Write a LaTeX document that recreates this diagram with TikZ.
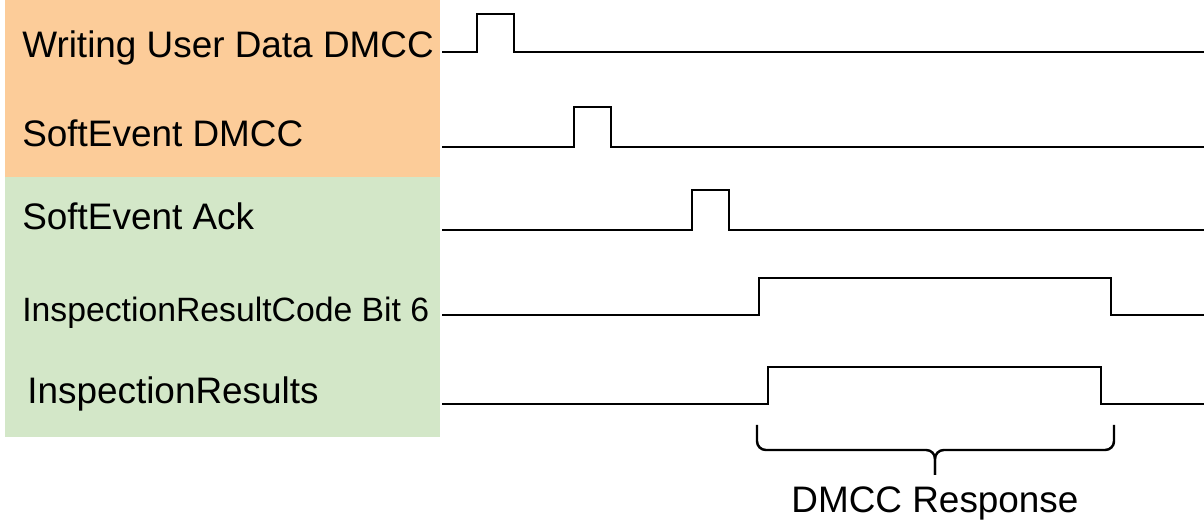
\documentclass[tikz,border=0pt]{standalone}
\usepackage{fontspec}
\setmainfont{Liberation Sans}
\usepackage{tikz}
\usetikzlibrary{positioning}
\definecolor{SigOrange}{RGB}{252,204,153}
\definecolor{SigGreen}{RGB}{211,231,200}
\tikzset{
  lbl/.style  = {anchor=base west, inner sep=0pt,
                 font=\fontsize{21}{25}\selectfont},
  slbl/.style = {lbl, font=\fontsize{19.2}{23}\selectfont},
  sig/.style  = {line width=1.4pt, line join=miter},
  brc/.style  = {line width=1.4pt, rounded corners=5pt}
}

\begin{document}
\begin{tikzpicture}[x=0.02cm, y=-0.02cm]
\useasboundingbox (0,0) rectangle (1204,523);
% label panels
\fill[SigOrange] (5,0) rectangle (440,177);
\fill[SigGreen] (5,177) rectangle (440,437);
\node[lbl] (wud) at (22,58) {Writing User Data DMCC};
\node[lbl] (sev) at (22,147) {SoftEvent DMCC};
\node[lbl] (ack) at (22,230) {SoftEvent Ack};
\node[slbl] (irc) at (22,322) {InspectionResultCode Bit 6};
\node[lbl] (ires) at (27,404) {InspectionResults};
% waveforms
\draw[sig] (442,52) -- (477,52) -- (477,14) -- (514,14) -- (514,52) -- (1204,52);
\draw[sig] (442,147) -- (574,147) -- (574,107) -- (611,107) -- (611,147) -- (1204,147);
\draw[sig] (442,230) -- (692,230) -- (692,190) -- (729,190) -- (729,230) -- (1204,230);
\draw[sig] (442,315) -- (759,315) -- (759,278) -- (1111,278) -- (1111,315) -- (1204,315);
\draw[sig] (442,404) -- (768,404) -- (768,367) -- (1101,367) -- (1101,404) -- (1204,404);
% response brace
\draw[brc] (757,425) -- (757,450) -- (935,450) -- (935,475);
\draw[brc] (1114,425) -- (1114,450) -- (935,450) -- (935,475);
\node[lbl, anchor=base] (resp) at (935,513) {DMCC Response};
\end{tikzpicture}
\end{document}
